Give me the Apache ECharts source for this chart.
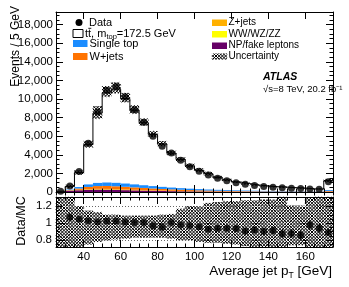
<!DOCTYPE html>
<html><head><meta charset="utf-8">
<script src="https://cdn.jsdelivr.net/npm/echarts@6/dist/echarts.min.js"></script>
<style>html,body{margin:0;padding:0;background:#fff}#c{width:349px;height:287px}</style>
</head><body><div id="c"></div>
<script>
// ---- data ----
const binEdges = [25,30,35,40,45,50,55,60,65,70,75,80,85,90,95,100,105,110,115,120,125,130,135,140,145,150,155,160,165,170,175];
const dataCounts = [80,650,2200,5250,8600,10950,11350,10200,8850,7500,6000,4920,4200,3420,2720,2240,1820,1480,1210,1000,820,690,600,520,460,405,365,330,300,1090];
const ratioVals = [null,1.07,1.047,1.03,1.015,1.027,1.027,1.015,1.008,1.008,0.972,0.953,1.008,0.98,0.975,0.96,0.93,0.94,0.94,0.937,0.91,0.92,0.905,0.915,0.875,0.88,0.86,0.98,0.94,0.89];
const ratioErr = [0,0.04,0.02,0.014,0.011,0.01,0.01,0.01,0.011,0.012,0.013,0.014,0.015,0.017,0.019,0.021,0.023,0.026,0.029,0.032,0.035,0.038,0.041,0.044,0.047,0.05,0.052,0.055,0.058,0.03];
const singleTop = [4,70,160,270,340,370,370,350,320,290,255,225,195,170,148,128,112,98,86,75,66,58,51,45,40,36,32,29,26,90];
const wJets = [4,60,140,240,300,320,310,290,262,232,205,178,155,134,116,100,87,76,66,58,50,44,39,34,30,27,24,21,19,65];
const zJets = [2,20,40,60,70,72,68,62,55,48,42,36,31,27,23,20,17,15,13,11,10,9,8,7,6,5,5,4,4,14];
const diboson = [0,2,4,6,7,8,8,8,7,7,6,6,5,5,4,4,4,3,3,3,3,2,2,2,2,2,2,1,1,5];
const fakes = [10,110,190,240,260,250,230,200,175,150,128,108,92,78,66,56,48,41,35,30,26,23,20,18,16,14,12,11,10,32];
const ratioUncUp = [0.4,0.4,0.2,0.15,0.13,0.1,0.1,0.09,0.09,0.09,0.09,0.1,0.11,0.17,0.2,0.2,0.24,0.25,0.26,0.26,0.27,0.27,0.28,0.28,0.4,0.21,0.21,0.4,0.4,0.4];
const ratioUncDn = [0.4,0.4,0.3,0.25,0.22,0.2,0.19,0.18,0.17,0.17,0.17,0.17,0.18,0.2,0.2,0.22,0.23,0.23,0.24,0.25,0.27,0.28,0.28,0.28,0.4,0.26,0.26,0.4,0.4,0.4];
const mainUncUp = [0.4,0.3,0.12,0.08,0.09,0.066,0.066,0.06,0.06,0.06,0.06,0.06,0.065,0.07,0.08,0.09,0.1,0.1,0.11,0.11,0.12,0.12,0.13,0.13,0.15,0.12,0.12,0.15,0.15,0.15];
const mainUncDn = [0.4,0.3,0.1,0.06,0.07,0.04,0.04,0.04,0.04,0.04,0.045,0.045,0.05,0.06,0.07,0.08,0.09,0.09,0.1,0.1,0.11,0.11,0.12,0.12,0.14,0.11,0.11,0.14,0.14,0.14];
const xTickLabels = [40,60,80,100,120,140,160];
const ratioTickLabels = [0.8,1,1.2];
const ratioMinorTicks = [0.75,0.85,0.9,0.95,1.05,1.1,1.15,1.25,1.3];

const nb = dataCounts.length;
const centers = [], mcTotal = [];
for (let i=0;i<nb;i++){
  centers.push((binEdges[i]+binEdges[i+1])/2);
  mcTotal.push(ratioVals[i] ? dataCounts[i]/ratioVals[i] : dataCounts[i]);
}
const stackDefs = [
  {name:'NP/fake leptons', vals:fakes, color:'#660066'},
  {name:'WW/WZ/ZZ', vals:diboson, color:'#ffff00'},
  {name:'Z+jets', vals:zJets, color:'#ffb000'},
  {name:'W+jets', vals:wJets, color:'#ff7300'},
  {name:'Single top', vals:singleTop, color:'#1a8cff'}
];

// cross-hatch drawn as diagonal segments inside a pixel rectangle
const HS = 3.2;
function hatchSegs(x0,y0,x1,y1){
  const segs=[];
  for(let c=Math.ceil((x0+y0)/HS)*HS; c<=x1+y1; c+=HS){
    const xa=Math.max(x0,c-y1), xb=Math.min(x1,c-y0);
    if(xb>xa) segs.push([xa,c-xa,xb,c-xb]);
  }
  for(let c=Math.ceil((x0-y1)/HS)*HS; c<=x1-y0; c+=HS){
    const xa=Math.max(x0,c+y0), xb=Math.min(x1,c+y1);
    if(xb>xa) segs.push([xa,xa-c,xb,xb-c]);
  }
  return segs;
}
function hatchPath(x0,y0,x1,y1){
  return hatchSegs(x0,y0,x1,y1).map(s=>'M'+s[0].toFixed(2)+' '+s[1].toFixed(2)+'L'+s[2].toFixed(2)+' '+s[3].toFixed(2)).join('');
}

function pixRect(params, api){
  const cs = params.coordSys;
  const a=api.coord([api.value(0), api.value(3)]);
  const b=api.coord([api.value(1), api.value(2)]);
  const x0=Math.max(a[0], cs.x), x1=Math.min(b[0], cs.x+cs.width);
  const y0=Math.max(a[1], cs.y), y1=Math.min(b[1], cs.y+cs.height);
  if (x1<=x0 || y1<=y0) return null;
  return [x0,y0,x1,y1];
}
function colorRender(color){
  return function(params, api){
    const r=pixRect(params, api); if(!r) return null;
    return {type:'rect', shape:{x:r[0], y:r[1], width:r[2]-r[0], height:r[3]-r[1]}, style:{fill:color}};
  };
}
function hatchRender(params, api){
  const r=pixRect(params, api); if(!r) return null;
  const d=hatchPath(r[0],r[1],r[2],r[3]); if(!d) return null;
  return {type:'path', shape:{pathData:d}, style:{stroke:'#000', lineWidth:1, fill:null}};
}

const series = [];
let base = new Array(nb).fill(0);
stackDefs.forEach(s=>{
  const d=[];
  for(let i=0;i<nb;i++){ d.push([binEdges[i], binEdges[i+1], base[i], base[i]+s.vals[i]]); base[i]+=s.vals[i]; }
  series.push({type:'custom', name:s.name, xAxisIndex:0, yAxisIndex:0, renderItem:colorRender(s.color), data:d, clip:false, encode:{x:[0,1],y:[2,3]}, z:2, silent:true});
});
const mainBand=[];
for(let i=0;i<nb;i++) mainBand.push([binEdges[i], binEdges[i+1], mcTotal[i]*(1-mainUncDn[i]), mcTotal[i]*(1+mainUncUp[i])]);
series.push({type:'custom', xAxisIndex:0, yAxisIndex:0, renderItem:hatchRender, data:mainBand, clip:false, encode:{x:[0,1],y:[2,3]}, z:3, silent:true});
const stepPts=[];
for(let i=0;i<nb;i++) stepPts.push([binEdges[i], mcTotal[i]]);
stepPts.push([binEdges[nb], mcTotal[nb-1]]);
series.push({type:'line', xAxisIndex:0, yAxisIndex:0, data:stepPts, step:'end', symbol:'none', lineStyle:{color:'#000', width:1}, z:4, silent:true, animation:false});
series.push({type:'scatter', xAxisIndex:0, yAxisIndex:0, data:centers.map((c,i)=>[c,dataCounts[i]]), symbol:'circle', symbolSize:7, itemStyle:{color:'#000'}, z:6, silent:true});

series.push({type:'line', xAxisIndex:4, yAxisIndex:2, data:[], z:1, silent:true,
  markLine:{silent:true, symbol:'none', label:{show:false}, lineStyle:{color:'#666', type:[1,2], width:1}, data:ratioTickLabels.map(v=>({yAxis:v}))}});
const ratioBand=[];
for(let i=0;i<nb;i++) ratioBand.push([binEdges[i], binEdges[i+1], 1-ratioUncDn[i], 1+ratioUncUp[i]]);
series.push({type:'custom', xAxisIndex:4, yAxisIndex:2, renderItem:hatchRender, data:ratioBand, clip:false, encode:{x:[0,1],y:[2,3]}, z:3, silent:true});
const errData=[];
for(let i=0;i<nb;i++) if(ratioVals[i]!==null) errData.push([centers[i], ratioVals[i]-ratioErr[i], ratioVals[i]+ratioErr[i]]);
series.push({type:'custom', xAxisIndex:4, yAxisIndex:2, data:errData, clip:true, encode:{x:0,y:[1,2]}, z:5, silent:true,
  renderItem:function(p,api){const a=api.coord([api.value(0),api.value(1)]), b=api.coord([api.value(0),api.value(2)]);
    return {type:'line', shape:{x1:a[0],y1:a[1],x2:b[0],y2:b[1]}, style:{stroke:'#000', lineWidth:1}};}});
series.push({type:'scatter', xAxisIndex:4, yAxisIndex:2, data:centers.map((c,i)=>[c,ratioVals[i]]).filter(d=>d[1]!==null), symbol:'circle', symbolSize:7, itemStyle:{color:'#000'}, z:6, silent:true});

const FONT = '"Liberation Sans", Arial, Helvetica, sans-serif';
const lineBlack = {color:'#000', width:1};
function xAxisMajor(grid, pos, labels){
  return {type:'value', gridIndex:grid, position:pos, min:25, max:175,
    axisLine:{show:true, onZero:false, lineStyle:lineBlack},
    axisTick:{show:true, inside:true, length:7, customValues:xTickLabels, lineStyle:lineBlack},
    axisLabel:{show:labels, customValues:xTickLabels, color:'#000', fontSize:11.5, fontFamily:FONT, margin:4},
    splitLine:{show:false}, z:10};
}
function xAxisMinor(grid, pos){
  return {type:'value', gridIndex:grid, position:pos, min:25, max:175, interval:5,
    axisLine:{show:false}, axisTick:{show:true, inside:true, length:3.5, lineStyle:lineBlack},
    axisLabel:{show:false}, splitLine:{show:false}, z:10};
}
function yR(pos, major){
  return {type:'value', gridIndex:1, position:pos, min:0.72, max:1.31,
    axisLine:{show:major, lineStyle:lineBlack},
    axisTick:{show:true, inside:true, length:major?7:3.5, customValues:major?ratioTickLabels:ratioMinorTicks, lineStyle:lineBlack},
    axisLabel:(major && pos==='left') ? {customValues:ratioTickLabels, color:'#000', fontSize:11.5, fontFamily:FONT, margin:4} : {show:false},
    splitLine:{show:false}, z:10};
}
function yM(pos){
  return {type:'value', gridIndex:0, position:pos, min:0, max:19350, interval:2000,
    axisLine:{show:true, lineStyle:lineBlack}, axisTick:{show:true, inside:true, length:7, lineStyle:lineBlack},
    minorTick:{show:true, splitNumber:4, length:3.5, lineStyle:lineBlack},
    axisLabel: pos==='left' ? {color:'#000', fontSize:11.5, fontFamily:FONT, margin:3, showMaxLabel:false} : {show:false},
    splitLine:{show:false}, z:10};
}
const graphics = [
  {type:'text', x:16, y:6, rotation:Math.PI/2, style:{text:'Events / 5 GeV', align:'right', verticalAlign:'middle', font:'12px '+FONT, fill:'#000'}},
  {type:'text', x:22, y:221, rotation:Math.PI/2, style:{text:'Data/MC', align:'center', verticalAlign:'middle', font:'12.5px '+FONT, fill:'#000'}},
  {type:'text', x:332, y:271, style:{text:'{a|Average jet p}{s|T}{a| [GeV]}', align:'right', verticalAlign:'middle',
    rich:{a:{fontSize:13.5, fontFamily:FONT, fill:'#000'}, s:{fontSize:8.5, fontFamily:FONT, fill:'#000', padding:[9,0,0,0]}}}},
  {type:'circle', shape:{cx:79, cy:22.5, r:3.5}, style:{fill:'#000'}},
  {type:'text', x:89, y:22.5, style:{text:'Data', verticalAlign:'middle', font:'11px '+FONT, fill:'#000'}},
  {type:'rect', shape:{x:73, y:29.5, width:10, height:8}, style:{fill:'#fff', stroke:'#000', lineWidth:1}},
  {type:'text', x:85, y:33.5, style:{text:'{a|tt, m}{s|top}{a|=172.5 GeV}', verticalAlign:'middle',
    rich:{a:{fontSize:11, fontFamily:FONT, fill:'#000'}, s:{fontSize:7.5, fontFamily:FONT, fill:'#000', padding:[6,0,0,0]}}}},
  {type:'line', shape:{x1:88.3, y1:28.3, x2:91.3, y2:28.3}, style:{stroke:'#000', lineWidth:0.9}},
  {type:'rect', shape:{x:73, y:40, width:14.5, height:7}, style:{fill:'#1a8cff'}},
  {type:'text', x:89.5, y:44, style:{text:'Single top', verticalAlign:'middle', font:'11px '+FONT, fill:'#000'}},
  {type:'rect', shape:{x:73, y:53, width:14.5, height:7}, style:{fill:'#ff7300'}},
  {type:'text', x:89.5, y:57, style:{text:'W+jets', verticalAlign:'middle', font:'11px '+FONT, fill:'#000'}},
  {type:'rect', shape:{x:212, y:19.5, width:15, height:6.5}, style:{fill:'#ffb000'}},
  {type:'text', x:228.5, y:22.5, style:{text:'Z+jets', verticalAlign:'middle', font:'10px '+FONT, fill:'#000'}},
  {type:'rect', shape:{x:212, y:31, width:15, height:6.5}, style:{fill:'#ffff00'}},
  {type:'text', x:228.5, y:34, style:{text:'WW/WZ/ZZ', verticalAlign:'middle', font:'10px '+FONT, fill:'#000'}},
  {type:'rect', shape:{x:212, y:42.5, width:15, height:6.5}, style:{fill:'#660066'}},
  {type:'text', x:228.5, y:45.5, style:{text:'NP/fake leptons', verticalAlign:'middle', font:'10px '+FONT, fill:'#000'}},
  {type:'text', x:228.5, y:56.5, style:{text:'Uncertainty', verticalAlign:'middle', font:'10px '+FONT, fill:'#000'}},
  {type:'text', x:263, y:77, style:{text:'ATLAS', verticalAlign:'middle', font:'italic bold 10.5px '+FONT, fill:'#000'}},
  {type:'text', x:263, y:89, style:{text:'√s=8 TeV, 20.2 fb⁻¹', verticalAlign:'middle', font:'9.5px '+FONT, fill:'#000'}}
];
hatchSegs(212,53.5,227,59.5).forEach(s=>graphics.push({type:'line', shape:{x1:s[0],y1:s[1],x2:s[2],y2:s[3]}, style:{stroke:'#000', lineWidth:1}}));

const option = {
  animation:false,
  backgroundColor:'#fff',
  grid:[{left:56, top:12, width:277, height:180}, {left:56, top:197, width:277, height:50}],
  xAxis:[
    xAxisMajor(0,'bottom',false), xAxisMinor(0,'bottom'), xAxisMajor(0,'top',false), xAxisMinor(0,'top'),
    xAxisMajor(1,'bottom',true), xAxisMinor(1,'bottom'), xAxisMajor(1,'top',false), xAxisMinor(1,'top')
  ],
  yAxis:[ yM('left'), yM('right'), yR('left',true), yR('left',false), yR('right',true), yR('right',false) ],
  graphic: graphics,
  series: series
};
const chart = echarts.init(document.getElementById('c'), null, {renderer:'canvas'});
chart.setOption(option);
</script></body></html>
